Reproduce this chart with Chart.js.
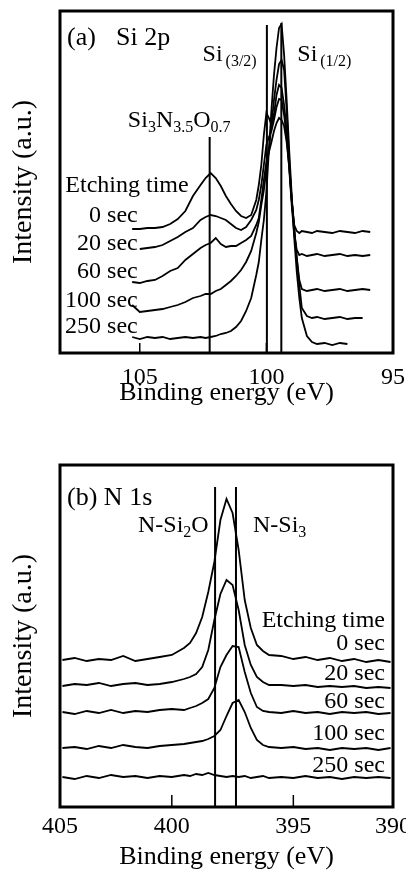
<!DOCTYPE html>
<html>
<head>
<meta charset="utf-8">
<script src="https://cdn.jsdelivr.net/npm/chart.js@4.4.1/dist/chart.umd.min.js"></script>
<style>
  body { margin: 0; background: #fff; }
  canvas { position: absolute; left: 0; }
  #chartA { top: 0; }
  #chartB { top: 440px; }
</style>
</head>
<body>
<canvas id="chartA" width="406" height="440" style="width:406px;height:440px"></canvas>
<canvas id="chartB" width="406" height="433" style="width:406px;height:433px"></canvas>
<script>
// etching times (one curve per time)
const etchLabels = ['0 sec', '20 sec', '60 sec', '100 sec', '250 sec'];

// (a) Si 2p spectra, binding energy (eV) and intensity (a.u.)
const energyA = [105.3, 105.0, 104.7, 104.4, 104.1, 103.8, 103.5, 103.2, 102.9, 102.6,
  102.4, 102.2, 102.0, 101.8, 101.6, 101.4, 101.2, 101.0, 100.8, 100.6,
  100.4, 100.3, 100.2, 100.1, 100.0, 99.9, 99.8, 99.7, 99.6, 99.5,
  99.4, 99.3, 99.2, 99.1, 99.0, 98.9, 98.8, 98.7, 98.6, 98.4,
  98.2, 98.0, 97.7, 97.4, 97.1, 96.8, 96.5, 96.2, 95.9];
const si2p_0 = [124, 124, 125, 125, 126, 129, 134, 142, 157, 168,
  175, 180, 175, 167, 157, 149, 142, 137, 135, 138,
  153, 168, 188, 218, 240, 235, 228, 238, 258, 268,
  265, 248, 223, 188, 153, 128, 122, 120, 122, 121,
  120, 122, 121, 120, 122, 121, 120, 122, 121];
const si2p_20 = [null, 104, 105, 106, 108, 112, 116, 121, 125, 133,
  136, 138, 137, 135, 133, 129, 125, 123, 126, 133,
  143, 153, 168, 188, 208, 216, 222, 233, 246, 254,
  253, 238, 216, 185, 148, 118, 103, 98, 99, 97,
  98, 99, 97, 98, 99, 97, 98, 97, 98];
const si2p_60 = [71, 70, 72, 73, 77, 82, 85, 93, 99, 105,
  108, 110, 115, 109, 106, 107, 107, 110, 113, 117,
  128, 135, 153, 173, 191, 201, 211, 222, 230, 235,
  233, 227, 211, 187, 153, 125, 95, 73, 64, 62,
  63, 64, 62, 63, 64, 62, 63, 64, 63];
const si2p_100 = [48, 41, 42, 43, 44, 46, 48, 51, 55, 57,
  59, 59, 62, 64, 68, 72, 77, 83, 91, 102,
  120, 131, 148, 163, 183, 203, 228, 253, 273, 289,
  293, 283, 243, 193, 153, 125, 95, 68, 45, 37,
  35, 36, 34, 35, 36, 34, 35, 35, null];
const si2p_250 = [16, 14, 16, 15, 16, 14, 15, 16, 15, 16,
  15, 16, 17, 19, 20, 22, 26, 32, 42, 55,
  78, 91, 113, 133, 161, 203, 243, 278, 305, 325,
  329, 298, 253, 203, 158, 115, 81, 55, 35, 17,
  11, 9, 10, 8, 10, 9, null, null, null];
const xTicksA = [105, 100, 95];
const refEnergyA = [102.24, 99.98, 99.41];   // Si3N3.5O0.7, Si(3/2), Si(1/2)
const refTopA = [216, 328, 330];

// (b) N 1s spectra
const energyB = [404.5, 404.0, 403.5, 403.0, 402.5, 402.0, 401.5, 401.0, 400.5, 400.0,
  399.5, 399.25, 399.0, 398.75, 398.5, 398.25, 398.0, 397.75, 397.5, 397.25,
  397.0, 396.75, 396.5, 396.25, 396.0, 395.5, 395.0, 394.5, 394.0, 393.5,
  393.0, 392.5, 392.0, 391.5, 391.0];
const n1s_0 = [147, 149, 146, 148, 147, 151, 146, 148, 150, 152,
  159, 164, 174, 190, 215, 245, 287, 308, 294, 257,
  207, 179, 162, 156, 152, 151, 148, 150, 147, 149,
  146, 148, 145, 147, 145];
const n1s_20 = [121, 123, 122, 124, 121, 123, 124, 122, 123, 125,
  128, 130, 133, 140, 157, 187, 213, 227, 222, 197,
  162, 142, 130, 125, 122, 122, 121, 122, 120, 121,
  120, 121, 119, 120, 119];
const n1s_60 = [95, 93, 96, 94, 97, 94, 96, 95, 97, 98,
  97, 99, 101, 104, 108, 119, 140, 152, 161, 160,
  135, 114, 100, 96, 95, 94, 96, 94, 95, 93,
  95, 94, 95, 93, 94];
const n1s_100 = [59, 60, 58, 61, 59, 62, 60, 59, 61, 62,
  63, 64, 65, 66, 68, 71, 77, 91, 104, 107,
  95, 79, 67, 62, 60, 59, 60, 58, 59, 57,
  59, 58, 59, 57, 59];
const n1s_250 = [30, 28, 31, 29, 32, 30, 31, 29, 31, 30,
  32, 31, 33, 32, 34, 32, 31, 30, 31, 30,
  31, 29, 30, 31, 29, 30, 29, 31, 29, 30,
  28, 30, 29, 30, 29];
const xTicksB = [405, 400, 395, 390];
const refEnergyB = [398.22, 397.36];   // N-Si2O, N-Si3
const refTopB = [320, 320];

const SERIF = '"Liberation Serif", "Times New Roman", serif';

// draw a label made of normal and subscript pieces
function drawRich(ctx, x, y, parts, align, size) {
  const mainFont = size + 'px ' + SERIF;
  const subFont = Math.round(size * 0.66) + 'px ' + SERIF;
  let w = 0;
  parts.forEach(p => {
    ctx.font = p.sub ? subFont : mainFont;
    w += ctx.measureText(p.t).width + (p.gap || 0);
  });
  let cx = align === 'right' ? x - w : x;
  ctx.textAlign = 'left';
  ctx.textBaseline = 'alphabetic';
  parts.forEach(p => {
    ctx.font = p.sub ? subFont : mainFont;
    cx += p.gap || 0;
    ctx.fillText(p.t, cx, y + (p.sub ? Math.round(size * 0.22) : 0));
    cx += ctx.measureText(p.t).width;
  });
}

// frame, inward tick marks and text labels
function framePlugin(innerTicks, tickLen, notes) {
  return {
    id: 'frame',
    afterDatasetsDraw(chart) {
      const { ctx, chartArea: a, scales: { x, y } } = chart;
      ctx.save();
      ctx.strokeStyle = '#000';
      ctx.lineWidth = 3;
      ctx.strokeRect(a.left, a.top, a.right - a.left, a.bottom - a.top);
      ctx.lineWidth = 1.5;
      innerTicks.forEach(v => {
        const px = x.getPixelForValue(v);
        ctx.beginPath();
        ctx.moveTo(px, a.bottom);
        ctx.lineTo(px, a.bottom - tickLen);
        ctx.stroke();
      });
      ctx.fillStyle = '#000';
      notes.forEach(n => drawRich(ctx, x.getPixelForValue(n.x), y.getPixelForValue(n.y),
        n.parts, n.align || 'left', n.size || 24));
      ctx.restore();
    }
  };
}

function spectrum(energy, values) {
  return {
    data: energy.map((e, i) => ({ x: e, y: values[i] })),
    borderColor: '#000',
    borderWidth: 1.8,
    pointRadius: 0,
    fill: false,
    tension: 0
  };
}

function refLine(e, top) {
  return {
    data: [{ x: e, y: 0 }, { x: e, y: top }],
    borderColor: '#000',
    borderWidth: 2,
    pointRadius: 0,
    fill: false
  };
}

function makeChart(id, p) {
  const datasets = p.series.map(s => spectrum(p.energy, s))
    .concat(p.refE.map((e, i) => refLine(e, p.refTop[i])));
  return new Chart(document.getElementById(id), {
    type: 'line',
    data: { datasets },
    options: {
      responsive: false,
      animation: false,
      devicePixelRatio: 1,
      layout: { padding: { left: 7, right: 13, top: p.padTop, bottom: p.padBottom } },
      plugins: { legend: { display: false }, tooltip: { enabled: false } },
      scales: {
        x: {
          type: 'linear',
          reverse: true,
          min: p.min,
          max: p.max,
          afterBuildTicks: s => {
            s.ticks = p.ticks.map(v => ({ value: Math.min(Math.max(v, p.min), p.max) }));
          },
          afterFit: s => { s.height = p.xHeight; s.paddingLeft = 0; s.paddingRight = 0; },
          grid: { display: false, drawTicks: false },
          border: { display: false },
          ticks: {
            autoSkip: false,
            maxRotation: 0,
            padding: p.tickPad,
            color: '#000',
            font: { family: SERIF, size: 24 },
            callback: (v, i) => String(p.ticks[i])
          },
          title: {
            display: true,
            text: 'Binding energy (eV)',
            color: '#000',
            padding: 0,
            font: { family: SERIF, size: 26 }
          }
        },
        y: {
          min: 0,
          max: 342,
          afterFit: s => { s.width = 53; },
          ticks: { display: false },
          grid: { display: false },
          border: { display: false },
          title: {
            display: true,
            text: 'Intensity (a.u.)',
            color: '#000',
            padding: 0,
            font: { family: SERIF, size: 28 }
          }
        }
      }
    },
    plugins: [framePlugin(p.innerTicks, p.tickLen, p.notes)]
  });
}

// panel (a)
const secYA = [131, 103, 75, 46, 20];
makeChart('chartA', {
  energy: energyA,
  series: [si2p_0, si2p_20, si2p_60, si2p_100, si2p_250],
  refE: refEnergyA, refTop: refTopA,
  min: 95, max: 108.15, ticks: xTicksA,
  padTop: 11, padBottom: 31, xHeight: 56, tickPad: 10,
  innerTicks: [105, 100], tickLen: 10,
  notes: [
    { x: 107.87, y: 308, size: 26, parts: [{ t: '(a)' }, { t: 'Si 2p', gap: 20 }] },
    { x: 102.52, y: 292, parts: [{ t: 'Si' }, { t: '(3/2)', sub: true, gap: 3 }] },
    { x: 98.78, y: 292, parts: [{ t: 'Si' }, { t: '(1/2)', sub: true, gap: 3 }] },
    { x: 105.47, y: 226, parts: [{ t: 'Si' }, { t: '3', sub: true }, { t: 'N' }, { t: '3.5', sub: true }, { t: 'O' }, { t: '0.7', sub: true }] },
    { x: 103.07, y: 161, align: 'right', parts: [{ t: 'Etching time' }] }
  ].concat(etchLabels.map((l, i) => ({ x: 105.08, y: secYA[i], align: 'right', parts: [{ t: l }] })))
});

// panel (b)
const secYB = [157, 127, 99, 67, 35];
makeChart('chartB', {
  energy: energyB,
  series: [n1s_0, n1s_20, n1s_60, n1s_100, n1s_250],
  refE: refEnergyB, refTop: refTopB,
  min: 390.9, max: 404.6, ticks: xTicksB,
  padTop: 25, padBottom: 0, xHeight: 66, tickPad: 5,
  innerTicks: [400, 395], tickLen: 12,
  notes: [
    { x: 404.31, y: 302, size: 26, parts: [{ t: '(b) N 1s' }] },
    { x: 401.39, y: 275, parts: [{ t: 'N-Si' }, { t: '2', sub: true }, { t: 'O' }] },
    { x: 396.66, y: 275, parts: [{ t: 'N-Si' }, { t: '3', sub: true }] },
    { x: 391.23, y: 180, align: 'right', parts: [{ t: 'Etching time' }] }
  ].concat(etchLabels.map((l, i) => ({ x: 391.23, y: secYB[i], align: 'right', parts: [{ t: l }] })))
});
</script>
</body>
</html>
